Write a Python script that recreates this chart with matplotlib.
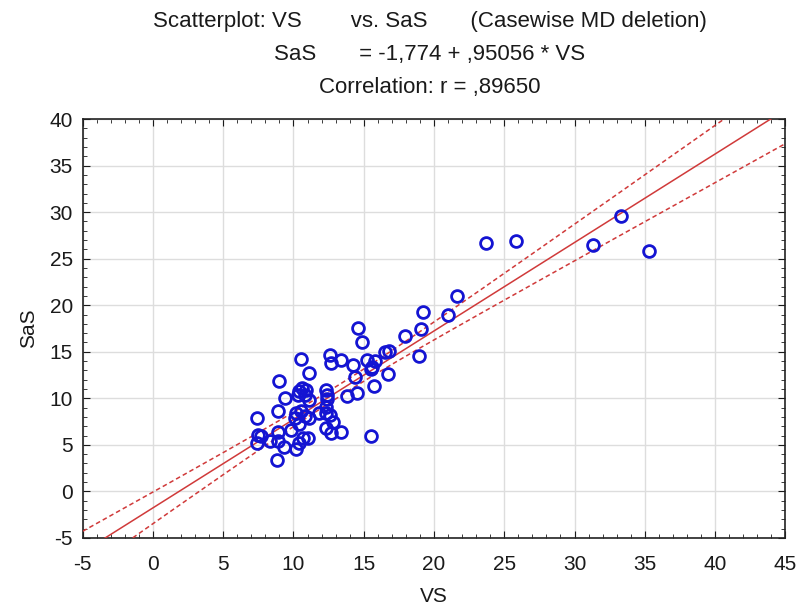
import numpy as np
import matplotlib
matplotlib.use("Agg")
import matplotlib.pyplot as plt
from matplotlib.ticker import MultipleLocator

plt.rcParams['font.family'] = ['Liberation Sans', 'DejaVu Sans']
plt.rcParams['axes.unicode_minus'] = False

vs = [14.6, 14.9, 19.2, 19.1, 17.9, 18.9, 10.5, 12.6, 12.7, 13.4, 14.2, 15.2, 15.6, 15.8,
      16.5, 16.8, 16.7, 15.5, 14.4, 14.5, 15.7, 13.8, 11.1, 9.0, 9.4, 10.4, 10.6, 10.9,
      10.3, 10.8, 11.1, 12.3, 12.4, 12.4, 8.9, 7.4, 10.2, 10.5, 10.1, 10.8, 11.1, 11.8,
      12.3, 12.6, 12.8, 10.4, 9.8, 8.9, 7.5, 7.7, 7.4, 8.3, 8.9, 9.3, 8.8, 10.2, 10.4,
      10.7, 11.0, 12.3, 12.7, 13.4, 15.5, 12.3, 21.6, 21.0, 23.7, 25.8, 31.3, 33.3, 35.3]
sas = [17.5, 16.0, 19.3, 17.4, 16.7, 14.5, 14.2, 14.6, 13.8, 14.1, 13.6, 14.1, 13.4, 14.0,
       15.0, 15.1, 12.6, 13.2, 12.3, 10.6, 11.3, 10.2, 12.7, 11.9, 10.0, 10.8, 11.1, 10.9,
       10.4, 10.4, 9.8, 10.9, 10.4, 9.9, 8.6, 7.9, 8.4, 8.6, 7.9, 8.1, 7.9, 8.4,
       8.4, 8.2, 7.5, 7.2, 6.6, 6.4, 6.1, 6.0, 5.2, 5.4, 5.4, 4.8, 3.4, 4.6, 5.2,
       5.7, 5.7, 6.8, 6.3, 6.4, 6.0, 9.1, 21.0, 19.0, 26.7, 26.9, 26.5, 29.6, 25.8]

intercept = -1.774
slope = 0.95056

x = np.array(vs)
y = np.array(sas)
n = len(x)

fig = plt.figure(figsize=(8.03, 6.14), dpi=100)
ax = fig.add_axes([0.103, 0.124, 0.875, 0.682])

xx = np.linspace(-5, 45, 300)
yy = intercept + slope * xx
res = y - (intercept + slope * x)
s = np.sqrt(np.sum(res ** 2) / (n - 2))
sxx = np.sum((x - x.mean()) ** 2)
hw = 1.99 * s * np.sqrt(1.0 / n + (xx - x.mean()) ** 2 / sxx)

red = '#d03a3a'
ax.plot(xx, yy, color=red, lw=1.1, zorder=3)
ax.plot(xx, yy + hw, color=red, lw=1.1, ls=(0, (3, 2)), zorder=3)
ax.plot(xx, yy - hw, color=red, lw=1.1, ls=(0, (3, 2)), zorder=3)

ax.plot(x, y, 'o', mfc='none', mec='#1414d2', ms=8.5, mew=2.0, zorder=4)

ax.set_xlim(-5, 45)
ax.set_ylim(-5, 40)
ax.xaxis.set_major_locator(MultipleLocator(5))
ax.yaxis.set_major_locator(MultipleLocator(5))
ax.xaxis.set_minor_locator(MultipleLocator(1))
ax.yaxis.set_minor_locator(MultipleLocator(1))
ax.tick_params(which='both', direction='in', top=True, right=True, labelsize=15,
               colors='#1a1a1a')
ax.tick_params(which='major', length=5)
ax.tick_params(which='minor', length=3)
ax.tick_params(axis='x', pad=12)
ax.tick_params(axis='y', pad=7)
ax.grid(True, which='major', color='#dddddd', lw=1)
ax.set_axisbelow(True)
for sp in ax.spines.values():
    sp.set_color('#222222')
    sp.set_linewidth(1.2)

ax.set_xlabel('VS', fontsize=15, labelpad=10, color='#1a1a1a')
ax.set_ylabel('SaS', fontsize=15, labelpad=8, color='#1a1a1a')

tkw = dict(ha='center', va='center', fontsize=16, color='#1a1a1a')
fig.text(0.535, 0.965, 'Scatterplot: VS        vs. SaS       (Casewise MD deletion)', **tkw)
fig.text(0.535, 0.911, 'SaS       = -1,774 + ,95056 * VS', **tkw)
fig.text(0.535, 0.858, 'Correlation: r = ,89650', **tkw)

fig.savefig('out.png', dpi=100)
